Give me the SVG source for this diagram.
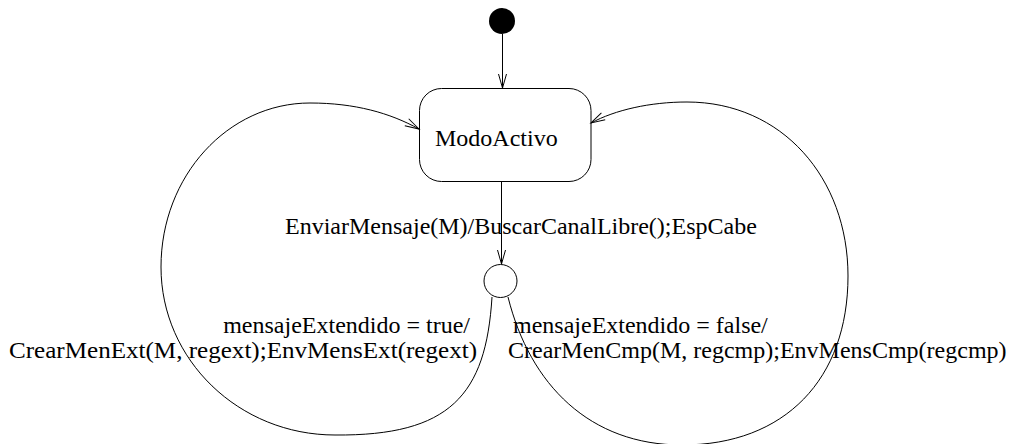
<svg xmlns="http://www.w3.org/2000/svg" width="1014" height="444" viewBox="0 0 1014 444">
  <defs>
    <marker id="open" markerUnits="userSpaceOnUse" markerWidth="16" markerHeight="10" refX="14" refY="4" orient="auto" overflow="visible">
      <path d="M0,0 L14,4 L0,8" fill="none" stroke="#000" stroke-width="1"/>
    </marker>
  </defs>
  <style>
    .ln { fill: none; stroke: #000; stroke-width: 1; }
    .lbl { font-family: "Liberation Serif", "Times New Roman", serif; font-size: 24px; fill: #000; }
  </style>
  <rect width="1014" height="444" fill="#fff"/>

  <g id="initial">
    <circle cx="502" cy="21" r="13" fill="#000"/>
  </g>

  <g id="ModoActivo">
    <rect x="419.5" y="88.5" width="171.5" height="93" rx="22" ry="22" class="ln"/>
    <text class="lbl" x="435" y="146">ModoActivo</text>
  </g>

  <g id="choice">
    <circle cx="500.5" cy="281" r="16.5" class="ln"/>
  </g>

  <g id="connectors">
    <line x1="502.5" y1="34" x2="502.5" y2="88" class="ln" marker-end="url(#open)"/>
    <line x1="501.5" y1="182" x2="501.5" y2="264" class="ln" marker-end="url(#open)"/>
    <path class="ln" marker-end="url(#open)" d="M492,297 C486,395 450,436 335,435 C239,435 161,360 161,267 C161,176 228,103 310,103 C355,103 390,113 419,129"/>
    <path class="ln" marker-end="url(#open)" d="M508,297 C530,385 590,445 682,445 C785,445 848,379 848,276 C848,178 782,102 687,102 C650,102 615,110 591,123"/>
    <text class="lbl" x="285" y="234">EnviarMensaje(M)/BuscarCanalLibre();EspCabe</text>
    <text class="lbl" x="470" y="333" text-anchor="end">mensajeExtendido = true/</text>
    <text class="lbl" x="9" y="358" textLength="468" lengthAdjust="spacingAndGlyphs">CrearMenExt(M, regext);EnvMensExt(regext)</text>
    <text class="lbl" x="513" y="333">mensajeExtendido = false/</text>
    <text class="lbl" x="508" y="358">CrearMenCmp(M, regcmp);EnvMensCmp(regcmp)</text>
  </g>
</svg>
